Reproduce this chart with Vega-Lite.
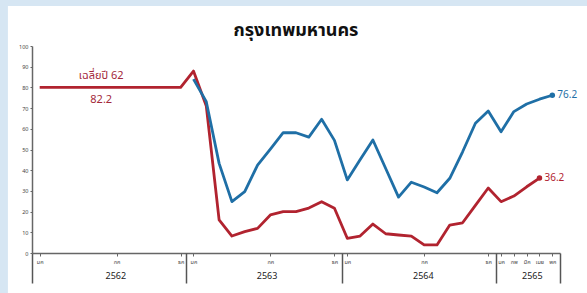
{
  "$schema": "https://vega.github.io/schema/vega-lite/v6.json",
  "autosize": {"type": "none"},
  "width": 528,
  "height": 207,
  "padding": {"left": 32, "top": 46, "right": 27, "bottom": 40},
  "background": "#d6e6f3",
  "config": {"view": {"stroke": null}, "font": "Noto Sans Thai, Noto Sans, sans-serif", "axis": {"labelOverlap": false, "labelFlush": false}},
  "title": {"text": "กรุงเทพมหานคร", "fontSize": 18, "fontWeight": "bold", "color": "#111111", "anchor": "middle", "frame": "group", "offset": 9, "dy": 43, "font": "Noto Sans Thai, Noto Sans, sans-serif"},
  "datasets": {
    "series": [
      {"m": 0, "v": 80, "s": "A"}, {"m": 1, "v": 80, "s": "A"}, {"m": 2, "v": 80, "s": "A"}, {"m": 3, "v": 80, "s": "A"},
      {"m": 4, "v": 80, "s": "A"}, {"m": 5, "v": 80, "s": "A"}, {"m": 6, "v": 80, "s": "A"}, {"m": 7, "v": 80, "s": "A"},
      {"m": 8, "v": 80, "s": "A"}, {"m": 9, "v": 80, "s": "A"}, {"m": 10, "v": 80, "s": "A"}, {"m": 11, "v": 80, "s": "A"},
      {"m": 12, "v": 87.9, "s": "A"}, {"m": 13, "v": 71, "s": "A"}, {"m": 14, "v": 16, "s": "A"}, {"m": 15, "v": 8.2, "s": "A"},
      {"m": 16, "v": 10.3, "s": "A"}, {"m": 17, "v": 11.9, "s": "A"}, {"m": 18, "v": 18.4, "s": "A"}, {"m": 19, "v": 20, "s": "A"},
      {"m": 20, "v": 20, "s": "A"}, {"m": 21, "v": 21.7, "s": "A"}, {"m": 22, "v": 24.8, "s": "A"}, {"m": 23, "v": 21.6, "s": "A"},
      {"m": 24, "v": 7.1, "s": "A"}, {"m": 25, "v": 8.2, "s": "A"}, {"m": 26, "v": 14, "s": "A"}, {"m": 27, "v": 9.3, "s": "A"},
      {"m": 28, "v": 8.7, "s": "A"}, {"m": 29, "v": 8.2, "s": "A"}, {"m": 30, "v": 3.9, "s": "A"}, {"m": 31, "v": 3.9, "s": "A"},
      {"m": 32, "v": 13.5, "s": "A"}, {"m": 33, "v": 14.6, "s": "A"}, {"m": 34, "v": 23, "s": "A"}, {"m": 35, "v": 31.4, "s": "A"},
      {"m": 36, "v": 24.8, "s": "A"}, {"m": 37, "v": 27.5, "s": "A"}, {"m": 38, "v": 32, "s": "A"}, {"m": 39, "v": 36.2, "s": "A"},
      {"m": 12, "v": 84, "s": "B"}, {"m": 13, "v": 73.1, "s": "B"}, {"m": 14, "v": 43.3, "s": "B"}, {"m": 15, "v": 24.8, "s": "B"},
      {"m": 16, "v": 29.6, "s": "B"}, {"m": 17, "v": 42.5, "s": "B"}, {"m": 18, "v": 50.2, "s": "B"}, {"m": 19, "v": 58.1, "s": "B"},
      {"m": 20, "v": 58.1, "s": "B"}, {"m": 21, "v": 56, "s": "B"}, {"m": 22, "v": 64.6, "s": "B"}, {"m": 23, "v": 54.4, "s": "B"},
      {"m": 24, "v": 35.3, "s": "B"}, {"m": 25, "v": 45, "s": "B"}, {"m": 26, "v": 54.6, "s": "B"}, {"m": 27, "v": 40.8, "s": "B"},
      {"m": 28, "v": 27, "s": "B"}, {"m": 29, "v": 34.2, "s": "B"}, {"m": 30, "v": 31.9, "s": "B"}, {"m": 31, "v": 29.1, "s": "B"},
      {"m": 32, "v": 36.1, "s": "B"}, {"m": 33, "v": 48.9, "s": "B"}, {"m": 34, "v": 62.7, "s": "B"}, {"m": 35, "v": 68.6, "s": "B"},
      {"m": 36, "v": 58.6, "s": "B"}, {"m": 37, "v": 68.3, "s": "B"}, {"m": 38, "v": 72, "s": "B"}, {"m": 39, "v": 74.3, "s": "B"},
      {"m": 40, "v": 76.2, "s": "B"}
    ],
    "notes": [
      {"m": 4.8, "v": 85.5, "t": "เฉลี่ยปี 62"},
      {"m": 4.8, "v": 73.9, "t": "82.2"}
    ]
  },
  "layer": [
    {
      "data": {"values": [{"k": 1}]},
      "mark": {"type": "rect", "fill": "white"},
      "encoding": {
        "x": {"datum": -2.48, "type": "quantitative", "scale": {"domain": [-0.6, 40.6], "nice": false, "zero": false}, "axis": null},
        "x2": {"datum": 46},
        "y": {"datum": 119.3, "type": "quantitative", "scale": {"domain": [0, 100], "nice": false},
          "axis": {"zindex": 1, "values": [0, 10, 20, 30, 40, 50, 60, 70, 80, 90, 100], "tickCount": 11, "title": null, "grid": false,
            "domainColor": "#666666", "domainWidth": 1.5, "tickColor": "#666666", "tickSize": 2, "labelOverlap": false,
            "labelFontSize": 5.5, "labelColor": "#444444", "labelPadding": 2}},
        "y2": {"datum": -30}
      }
    },
    {
      "data": {"name": "series"},
      "mark": {"type": "line", "strokeWidth": 2.8, "strokeJoin": "round"},
      "encoding": {
        "x": {"field": "m", "type": "quantitative",
          "axis": {"orient": "bottom", "zindex": 1, "values": [0, 6, 11, 12, 18, 23, 24, 30, 35, 36, 37, 38, 39, 40],
            "labelExpr": "['มค','กพ','มีค','เมย','พค','มิย','กค','สค','กย','ตค','พย','ธค'][datum.value % 12]",
            "title": null, "grid": false, "domainColor": "#666666", "domainWidth": 1.5, "tickColor": "#666666", "tickSize": 3,
            "labelFontSize": 5.5, "labelColor": "#444444", "labelPadding": 3, "labelOverlap": false, "labelFlush": false}},
        "y": {"field": "v", "type": "quantitative"},
        "color": {"field": "s", "type": "nominal", "scale": {"domain": ["A", "B"], "range": ["#b1232f", "#1f6fa6"]}, "legend": null}
      }
    },
    {
      "data": {"name": "series"},
      "transform": [
        {"joinaggregate": [{"op": "max", "field": "m", "as": "mx"}], "groupby": ["s"]},
        {"filter": "datum.m == datum.mx"}
      ],
      "layer": [
        {
          "mark": {"type": "circle", "size": 30, "opacity": 1},
          "encoding": {
            "x": {"field": "m", "type": "quantitative", "axis": null},
            "y": {"field": "v", "type": "quantitative"},
            "color": {"field": "s", "type": "nominal", "legend": null}
          }
        },
        {
          "mark": {"type": "text", "align": "left", "dx": 5, "fontSize": 10, "baseline": "middle"},
          "encoding": {
            "x": {"field": "m", "type": "quantitative", "axis": null},
            "y": {"field": "v", "type": "quantitative"},
            "text": {"field": "v", "type": "quantitative", "format": ".1f"},
            "color": {"field": "s", "type": "nominal", "legend": null}
          }
        }
      ]
    },
    {
      "data": {"name": "notes"},
      "mark": {"type": "text", "align": "center", "baseline": "middle", "fontSize": 11, "color": "#a3283a"},
      "encoding": {
        "x": {"field": "m", "type": "quantitative", "axis": null},
        "y": {"field": "v", "type": "quantitative"},
        "text": {"field": "t"}
      }
    },
    {
      "data": {"values": [{"m": 0}]},
      "mark": {"type": "point", "opacity": 0},
      "encoding": {
        "x": {"field": "m", "type": "quantitative",
          "axis": {"orient": "bottom", "zindex": 1, "values": [-0.6, 11.4, 23.6, 35.6, 40.6], "labels": false, "domain": false, "grid": false,
            "title": null, "tickSize": 30, "tickWidth": 1.5, "tickColor": "#555555"}}
      }
    },
    {
      "data": {"values": [{"m": 0}]},
      "mark": {"type": "point", "opacity": 0},
      "encoding": {
        "x": {"field": "m", "type": "quantitative",
          "axis": {"orient": "bottom", "zindex": 1, "values": [5.9, 17.7, 29.9, 38.4], "ticks": false, "domain": false, "grid": false, "title": null,
            "labelExpr": "datum.value < 11 ? '2562' : datum.value < 23 ? '2563' : datum.value < 35 ? '2564' : '2565'",
            "labelFontSize": 9, "labelColor": "#222222", "labelPadding": 18, "labelOverlap": false, "labelFlush": false}}
      }
    }
  ],
  "resolve": {"axis": {"x": "independent"}}
}
